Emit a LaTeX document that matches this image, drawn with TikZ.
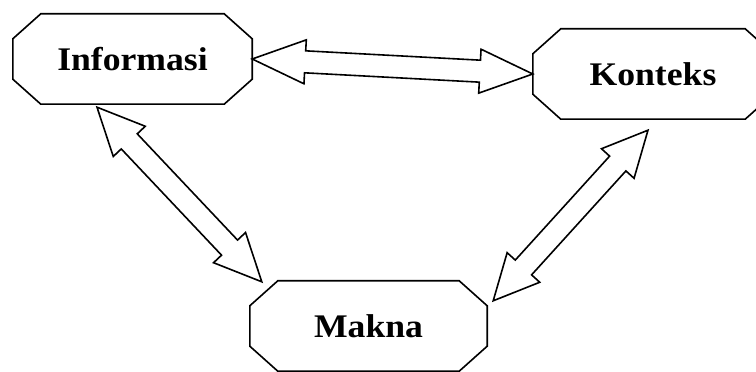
\documentclass[tikz,border=0pt]{standalone}
\usepackage{fontspec}
\setmainfont{Liberation Serif}
\usetikzlibrary{calc}
\newcommand\boxtext[1]{\scalebox{1.08}[1]{#1}}
\tikzset{
  box/.style={inner sep=0pt, minimum height=90pt, font=\fontsize{33}{36}\selectfont\bfseries},
  arr/.style={draw=black, line width=1.6pt, fill=white, line join=miter},
  outline/.style={draw=black, line width=1.6pt, line join=miter}
}
\newcommand\blockarrow[3]{%
  \coordinate (h1) at ($(#2)!#1!(#3)$);
  \coordinate (h2) at ($(#3)!#1!(#2)$);
  \draw[arr] (#2) -- ($(h1)!22pt!-90:(#3)$) -- ($(h1)!11pt!-90:(#3)$)
    -- ($(h2)!11pt!90:(#2)$) -- ($(h2)!22pt!90:(#2)$) -- (#3)
    -- ($(h2)!22pt!-90:(#2)$) -- ($(h2)!11pt!-90:(#2)$)
    -- ($(h1)!11pt!90:(#3)$) -- ($(h1)!22pt!90:(#3)$) -- cycle;}
\begin{document}
\begin{tikzpicture}[x=1pt,y=1pt]
\useasboundingbox (0,0) rectangle (756,372);
\node[box, minimum width=239pt] (inf) at (132.5,313) {\boxtext{Informasi}};
\node[box, minimum width=240pt] (kon) at (653,298) {\boxtext{Konteks}};
\node[box, minimum width=237pt] (mak) at (368.5,46) {\boxtext{Makna}};
\foreach \n in {inf,kon,mak}{
  \draw[outline] ($(\n.north west)+(28,0)$) -- ($(\n.north east)+(-28,0)$)
    -- ($(\n.north east)+(0,-25)$) -- ($(\n.south east)+(0,25)$)
    -- ($(\n.south east)+(-28,0)$) -- ($(\n.south west)+(28,0)$)
    -- ($(\n.south west)+(0,25)$) -- ($(\n.north west)+(0,-25)$) -- cycle;
}
\coordinate (lt1) at ($(inf.south)+(-35.5,-3)$);
\coordinate (lt2) at ($(mak.north west)+(12,-1)$);
\coordinate (rt1) at ($(kon.south)+(-5,-11)$);
\coordinate (rt2) at ($(mak.north east)+(6,-20)$);
\blockarrow{53pt}{inf.east}{kon.west}
\blockarrow{47pt}{lt1}{lt2}
\blockarrow{45pt}{rt1}{rt2}
\end{tikzpicture}
\end{document}
